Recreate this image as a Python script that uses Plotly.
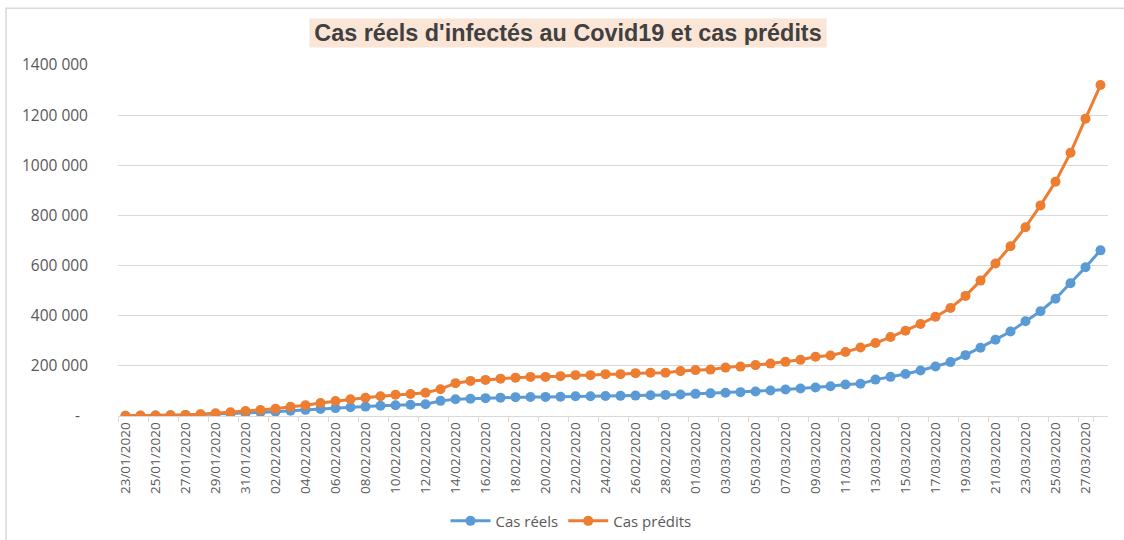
import datetime as dt
import plotly.graph_objects as go

# Dates du 23/01/2020 au 28/03/2020
debut = dt.date(2020, 1, 23)
dates = [(debut + dt.timedelta(days=i)).strftime("%d/%m/%Y") for i in range(66)]

cas_reels = [
    654, 941, 2019, 2794, 4473, 6057, 7783, 9776, 11374, 14552,
    17389, 20628, 24553, 28276, 31481, 34886, 37552, 40553, 43099, 45170,
    46809, 60381, 66887, 69032, 71226, 73260, 75138, 75641, 76199, 76843,
    78599, 78985, 79570, 80415, 81397, 82756, 84124, 86013, 88371, 90309,
    92844, 95124, 97886, 101800, 105836, 109835, 113582, 118582, 125865, 128343,
    145193, 156097, 167449, 181546, 197168, 214915, 242713, 272167, 304528, 336953,
    378235, 418045, 467653, 529591, 593291, 660706,
]

cas_predits = [
    1000, 1500, 2000, 2500, 4000, 7000, 11000, 15000, 20000, 24000,
    29000, 37000, 43000, 52000, 60000, 67000, 73000, 79000, 85000, 88000,
    93000, 107000, 131000, 140000, 144000, 149000, 153000, 156000, 156000, 159000,
    163000, 163000, 167000, 167000, 171000, 173000, 173000, 179000, 183000, 185000,
    193000, 197000, 203000, 209000, 216000, 224000, 236000, 241000, 255000, 273000,
    291000, 315000, 340000, 367000, 396000, 431000, 479000, 540000, 608000, 677000,
    753000, 840000, 934000, 1050000, 1186000, 1320000,
]

y_ticks = [0, 200000, 400000, 600000, 800000, 1000000, 1200000, 1400000]
y_labels = ["-\u00a0\u00a0", "200 000", "400 000", "600 000", "800 000", "1000 000", "1200 000", "1400 000"]

bleu = "#5B9BD5"
orange = "#ED7D31"
gris = "#595959"

fig = go.Figure()
fig.add_trace(go.Scatter(
    x=dates, y=cas_reels, name="Cas réels", mode="lines+markers",
    line=dict(color=bleu, width=3), marker=dict(color=bleu, size=10),
))
fig.add_trace(go.Scatter(
    x=dates, y=cas_predits, name="Cas prédits", mode="lines+markers",
    line=dict(color=orange, width=3), marker=dict(color=orange, size=10),
))

fig.update_layout(
    width=1124, height=540,
    margin=dict(l=118, r=16, t=65, b=124),
    plot_bgcolor="white", paper_bgcolor="white",
    font=dict(family="Open Sans, Noto Sans, sans-serif", color=gris),
    showlegend=True,
    # légende positionnée dans le conteneur pour ne pas pousser les marges
    legend=dict(
        orientation="h", xref="container", yref="container",
        x=0.508, xanchor="center", y=0.035, yanchor="middle",
        font=dict(size=15, color=gris), itemwidth=40,
    ),
    annotations=[dict(
        text="<b>Cas réels d'infectés au Covid19 et cas prédits</b>",
        xref="paper", yref="paper", x=0.4545, y=1.091,
        xanchor="center", yanchor="middle", showarrow=False,
        font=dict(family="Liberation Sans, Arial, sans-serif", size=23.4, color="#404040"),
        bgcolor="#FBE5D6", borderpad=2, width=512, height=24,
    )],
    shapes=[dict(
        type="rect", xref="paper", yref="paper",
        x0=-0.1131, x1=1.2, y0=-0.6, y1=1.162,
        line=dict(color="#D9D9D9", width=1.5),
    )],
)

fig.update_xaxes(
    type="category", tickmode="array", tickvals=dates[::2],
    tickangle=-90, tickson="boundaries", ticks="outside", ticklen=5,
    tickcolor="#D9D9D9", showgrid=False, showline=True, linecolor="#D9D9D9",
    tickfont=dict(size=13.5, color=gris), range=[-0.5, 65.5], automargin=False,
)
fig.update_yaxes(
    range=[0, 1400000], tickmode="array", tickvals=y_ticks, ticktext=y_labels,
    showgrid=True, gridcolor="#D9D9D9", gridwidth=1, zeroline=False,
    showline=False, ticks="", ticklabelstandoff=29, automargin=False,
    tickfont=dict(size=15.5, color=gris),
)

# page sans marge pour que la figure commence au coin de la fenêtre
fig.write_html("out.html", config={"displayModeBar": False},
               post_script="document.body.style.margin='0';")
